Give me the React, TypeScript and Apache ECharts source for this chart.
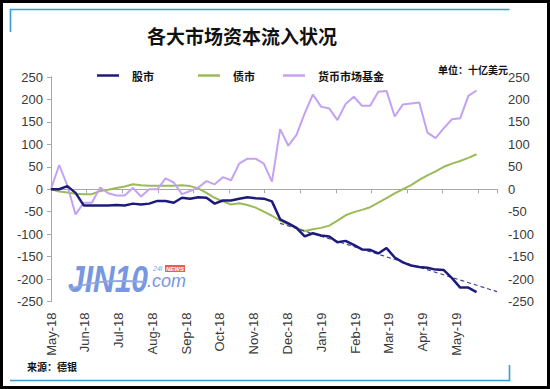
import React, { useEffect, useRef } from "react";
import * as echarts from "echarts";

const monthLabels = ["May-18", "Jun-18", "Jul-18", "Aug-18", "Sep-18", "Oct-18", "Nov-18", "Dec-18", "Jan-19", "Feb-19", "Mar-19", "Apr-19", "May-19"];

const stockFlows = [0, 0, 7, -8, -36, -36, -36, -36, -35, -36, -32, -34, -32, -26, -26, -30, -19, -21, -18, -19, -32, -25, -25, -21, -18, -20, -21, -27,
  -67, -76, -86, -105, -98, -103, -105, -118, -115, -124, -134, -135, -143, -131, -152, -163, -170, -173, -175, -179, -180, -198, -219, -219, -229];

const bondFlows = [0, -5, -7, -10, -11, -11, -4, -1, 3, 6, 11, 9, 8, 8, 8, 8, 9, 7, 2, -8, -19, -27, -34, -31, -35, -41, -50, -59,
  -70, -79, -86, -93, -89, -86, -81, -70, -58, -51, -46, -40, -30, -20, -9, 0, 9, 21, 31, 40, 50, 57, 63, 70, 78];

const mmfFlows = [0, 54, 8, -56, -30, -30, 4, -9, -14, -14, 3, -16, 0, 0, 24, 15, -11, -4, 4, 18, 11, 27, 20, 57, 68, 68, 57, 17,
  134, 97, 121, 169, 211, 184, 180, 154, 190, 206, 186, 186, 217, 219, 162, 189, 191, 193, 126, 114, 136, 156, 158, 208, 220];

const stockTrend = [[28, -76], [54.5, -228]];

const yMin = -250;
const yMax = 250;
const yStep = 50;

const seriesNames = ["股市", "债市", "货币市场基金"];

const NAVY = "#1c1b7c";
const GREEN = "#9bbb59";
const PURPLE = "#c4a2f3";
const AXIS = "#a8a8a8";
const LABEL = "#3a3a3a";
const CJK = '"Noto Sans CJK SC", sans-serif';
const LATIN = '"Liberation Sans", Arial, sans-serif';

export default function App() {
  const ref = useRef<HTMLDivElement>(null);

  useEffect(() => {
    if (!ref.current) return;
    const chart = echarts.init(ref.current, undefined, { renderer: "svg" });
    const toPairs = (arr: number[]) => arr.map((v, i) => [i, v]);

    const legendBase = (name: string, left: number) => ({
      data: [name],
      left,
      top: 70,
      padding: 0,
      icon: "rect",
      itemWidth: 22,
      itemHeight: 2.5,
      selectedMode: false,
      textStyle: { fontSize: 11, fontWeight: "bold", fontFamily: CJK, color: "#111", padding: [0, 0, 0, 8] },
    });

    const option: any = {
      animation: false,
      backgroundColor: "#ffffff",
      grid: { left: 51, right: 53, top: 77, bottom: 87.5, containLabel: false },
      legend: [legendBase(seriesNames[0], 97), legendBase(seriesNames[1], 198), legendBase(seriesNames[2], 283)],
      xAxis: [
        {
          type: "value",
          min: 0,
          max: 54.5,
          interval: 4.35,
          axisLine: { show: true, onZero: true, lineStyle: { color: AXIS, width: 1 } },
          axisTick: { show: true, length: 4, lineStyle: { color: AXIS } },
          axisLabel: { show: false },
          splitLine: { show: false },
        },
        {
          type: "value",
          position: "bottom",
          min: 0,
          max: 13.2,
          interval: 1,
          axisLine: { show: false, onZero: false },
          axisTick: { show: false },
          splitLine: { show: false },
          axisLabel: {
            rotate: 90,
            margin: 11,
            fontSize: 13,
            fontFamily: LATIN,
            color: LABEL,
            showMinLabel: true,
            showMaxLabel: true,
            formatter: (v: number) => {
              const r = Math.round(v);
              return Math.abs(v - r) < 1e-6 && r >= 0 && r < monthLabels.length ? monthLabels[r] : "";
            },
          },
        },
      ],
      yAxis: [
        {
          type: "value",
          min: yMin,
          max: yMax,
          interval: yStep,
          position: "left",
          axisLine: { show: true, lineStyle: { color: AXIS } },
          axisTick: { show: true, length: 4, lineStyle: { color: AXIS } },
          axisLabel: { margin: 8, fontSize: 13, fontFamily: LATIN, color: LABEL },
          splitLine: { show: false },
        },
        {
          type: "value",
          min: yMin,
          max: yMax,
          interval: yStep,
          position: "right",
          axisLine: { show: true, lineStyle: { color: AXIS } },
          axisTick: { show: true, inside: true, length: 4, lineStyle: { color: AXIS } },
          axisLabel: { margin: 11, fontSize: 13, fontFamily: LATIN, color: LABEL },
          splitLine: { show: false },
        },
      ],
      series: [
        {
          name: seriesNames[1],
          type: "line",
          xAxisIndex: 0,
          yAxisIndex: 0,
          data: toPairs(bondFlows),
          symbol: "none",
          color: GREEN,
          lineStyle: { color: GREEN, width: 2 },
          z: 2,
        },
        {
          name: seriesNames[2],
          type: "line",
          xAxisIndex: 0,
          yAxisIndex: 0,
          data: toPairs(mmfFlows),
          symbol: "none",
          color: PURPLE,
          lineStyle: { color: PURPLE, width: 2 },
          z: 3,
        },
        {
          name: "趋势",
          type: "line",
          xAxisIndex: 0,
          yAxisIndex: 0,
          data: stockTrend,
          symbol: "none",
          silent: true,
          color: NAVY,
          lineStyle: { color: "#3a3a90", width: 1.1, type: [4, 3] },
          z: 4,
        },
        {
          name: seriesNames[0],
          type: "line",
          xAxisIndex: 0,
          yAxisIndex: 0,
          data: toPairs(stockFlows),
          symbol: "none",
          color: NAVY,
          lineStyle: { color: NAVY, width: 2.5 },
          z: 5,
        },
      ],
      graphic: [
        { type: "rect", shape: { x: 1.5, y: 1.5, width: 547, height: 386 }, style: { fill: "none", stroke: "#000", lineWidth: 3 }, z: 100 },
        { type: "polyline", shape: { points: [[10.5, 32], [10.5, 9.5], [509.5, 9.5]] }, style: { fill: "none", stroke: "#3b9bd3", lineWidth: 1.6 } },
        { type: "polyline", shape: { points: [[10, 380.5], [509.5, 380.5], [509.5, 365]] }, style: { fill: "none", stroke: "#3b9bd3", lineWidth: 1.6 } },
        {
          type: "text", x: 242, y: 35,
          style: { text: "各大市场资本流入状况", fontSize: 19, fontWeight: "bold", fontFamily: CJK, fill: "#111", textAlign: "center", textVerticalAlign: "middle" },
        },
        {
          type: "text", x: 508, y: 69,
          style: { text: "单位：十亿美元", fontSize: 10, fontWeight: "bold", fontFamily: CJK, fill: "#111", textAlign: "right", textVerticalAlign: "middle" },
        },
        {
          type: "text", x: 27, y: 366,
          style: { text: "来源：德银", fontSize: 10, fontWeight: "bold", fontFamily: CJK, fill: "#111", textAlign: "left", textVerticalAlign: "middle" },
        },
        {
          type: "group",
          z: 1,
          children: [
            {
              type: "text", x: 68, y: 279, scaleY: 1.25,
              style: { text: "JIN10", font: 'italic bold 30px "Liberation Sans", Arial, sans-serif', fill: "#7797e0", textAlign: "left", textVerticalAlign: "middle" },
            },
            {
              type: "text", x: 147, y: 281,
              style: { text: ".com", font: 'italic 18px "Liberation Sans", Arial, sans-serif', fill: "#7797e0", textAlign: "left", textVerticalAlign: "middle" },
            },
            {
              type: "text", x: 153, y: 268.5,
              style: { text: "24i", font: 'italic 7px "Liberation Sans", Arial, sans-serif', fill: "#8aa0d8", textAlign: "left", textVerticalAlign: "middle" },
            },
            { type: "rect", shape: { x: 165, y: 265, width: 20, height: 7 }, style: { fill: "#e8604c" } },
            {
              type: "text", x: 175, y: 268.6,
              style: { text: "NEWS", font: 'italic bold 6px "Liberation Sans", Arial, sans-serif', fill: "#ffffff", textAlign: "center", textVerticalAlign: "middle" },
            },
            {
              type: "bezierCurve",
              shape: { x1: 70, y1: 289, cpx1: 95, cpy1: 280, cpx2: 120, cpy2: 280, x2: 145, y2: 282 },
              style: { stroke: "#8fa8e0", lineWidth: 2, fill: "none" },
            },
          ],
        },
      ],
    };

    chart.setOption(option);
    return () => chart.dispose();
  }, []);

  return (
    <div style={{ position: "absolute", left: 0, top: 0, width: 550, height: 389, background: "#fff" }}>
      <div ref={ref} style={{ width: 550, height: 389 }} />
    </div>
  );
}
